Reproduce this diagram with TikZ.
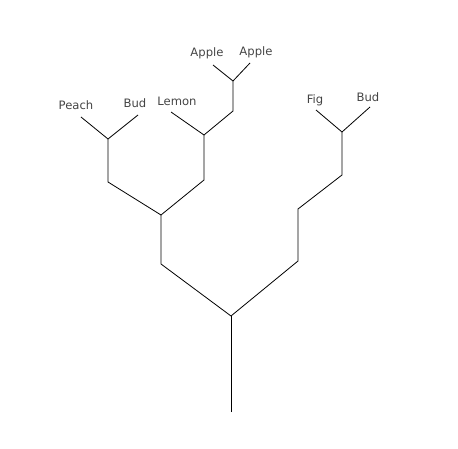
\documentclass[tikz,border=0pt]{standalone}
\usepackage{fontspec}
\setmainfont{DejaVu Sans}
\definecolor{labelgray}{HTML}{444444}

\begin{document}
\begin{tikzpicture}[x=1pt,y=-1pt,line width=0.8pt,
	leaf/.style={anchor=base,inner sep=0pt,text=labelgray,font=\fontsize{11.6}{13}\selectfont}]
	\useasboundingbox (0,0) rectangle (458,449);
	\coordinate (r0) at (231,412);
	\coordinate (j0) at (231,316);
	\coordinate (a1) at (161,264);
	\coordinate (jL) at (161,215);
	\coordinate (b1) at (298,261);
	\coordinate (b2) at (298,209);
	\coordinate (b3) at (342,175);
	\coordinate (jF) at (342,132);
	\coordinate (c1) at (108,182);
	\coordinate (jP) at (108,139);
	\coordinate (d1) at (204,180);
	\coordinate (jM) at (204,135);
	\coordinate (e1) at (233,111);
	\coordinate (jA) at (233,81);
	
	\node[leaf] at (76,110)(peach){Peach};
	\coordinate (tpeach) at (81,117);
	\node[leaf] at (135,108)(bud){Bud};
	\coordinate (tbud) at (138,115);
	\node[leaf] at (177,106)(lemon){Lemon};
	\coordinate (tlemon) at (171,112);
	\node[leaf] at (207,57)(apple){Apple};
	\coordinate (tapple) at (213,65);
	\node[leaf] at (256,56)(appleb){Apple};
	\coordinate (tappleb) at (250,63);
	\node[leaf] at (315,104)(fig){Fig};
	\coordinate (tfig) at (316,110);
	\node[leaf] at (368,102)(budb){Bud};
	\coordinate (tbudb) at (370,107);
	
	\draw (r0)--(j0);
	\draw (j0)--(a1)--(jL);
	\draw (j0)--(b1)--(b2)--(b3)--(jF);
	\draw (jL)--(c1)--(jP);
	\draw (jL)--(d1)--(jM);
	\draw (jM)--(e1)--(jA);
	\draw (jP)--(tpeach) (jP)--(tbud);
	\draw (jM)--(tlemon);
	\draw (jA)--(tapple) (jA)--(tappleb);
	\draw (jF)--(tfig) (jF)--(tbudb);
	
\end{tikzpicture}
\end{document}
